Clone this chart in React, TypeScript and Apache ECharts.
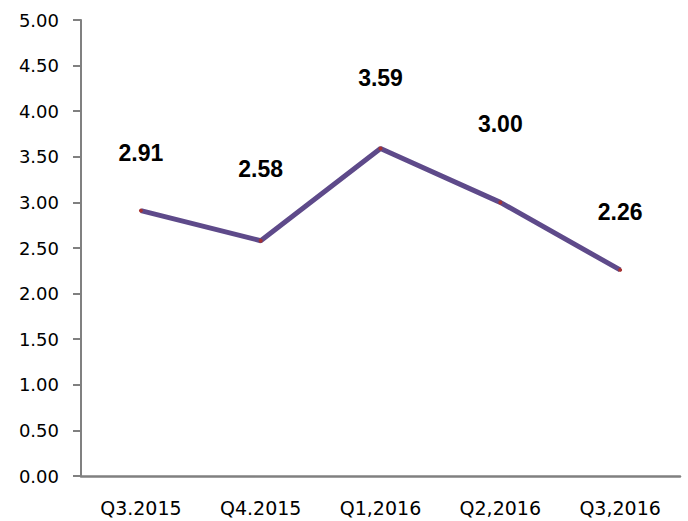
import React, { useEffect, useRef } from "react";
import * as echarts from "echarts";

const categories = ["Q3.2015", "Q4.2015", "Q1,2016", "Q2,2016", "Q3,2016"];
const values = [2.91, 2.58, 3.59, 3.0, 2.26];
const labelGaps = [44, 58, 57, 65, 44];

export default function App() {
  const ref = useRef<HTMLDivElement>(null);
  useEffect(() => {
    if (!ref.current) return;
    const chart = echarts.init(ref.current, undefined, { renderer: "svg" });
    chart.setOption({
      animation: false,
      grid: { left: 81, right: 8, top: 20, bottom: 45 },
      xAxis: {
        type: "category",
        data: categories,
        boundaryGap: true,
        axisLine: { lineStyle: { color: "#808080", width: 2.5 } },
        axisTick: { show: false },
        axisLabel: {
          color: "#000",
          fontFamily: "DejaVu Sans",
          fontSize: 19,
          margin: 22,
        },
      },
      yAxis: {
        type: "value",
        min: 0,
        max: 5,
        interval: 0.5,
        splitLine: { show: false },
        axisLine: { show: true, lineStyle: { color: "#808080", width: 2 } },
        axisTick: { show: true, length: 8, lineStyle: { color: "#808080", width: 2 } },
        axisLabel: {
          color: "#000",
          fontFamily: "DejaVu Sans",
          fontSize: 18,
          margin: 22,
          formatter: (v: number) => v.toFixed(2),
        },
      },
      series: [
        {
          type: "line",
          data: values.map((v, i) => ({
            value: v,
            label: { distance: labelGaps[i] },
          })),
          lineStyle: { color: "#5E4A8A", width: 5 },
          itemStyle: { color: "#A63232" },
          symbol: "circle",
          symbolSize: 4,
          label: {
            show: true,
            position: "top",
            color: "#000",
            fontFamily: "Liberation Sans",
            fontWeight: "bold",
            fontSize: 23,
            formatter: (p: any) => Number(p.value).toFixed(2),
          },
        },
      ],
    });
    return () => chart.dispose();
  }, []);
  return <div ref={ref} style={{ width: 688, height: 521, position: "absolute", left: 0, top: 0 }} />;
}
